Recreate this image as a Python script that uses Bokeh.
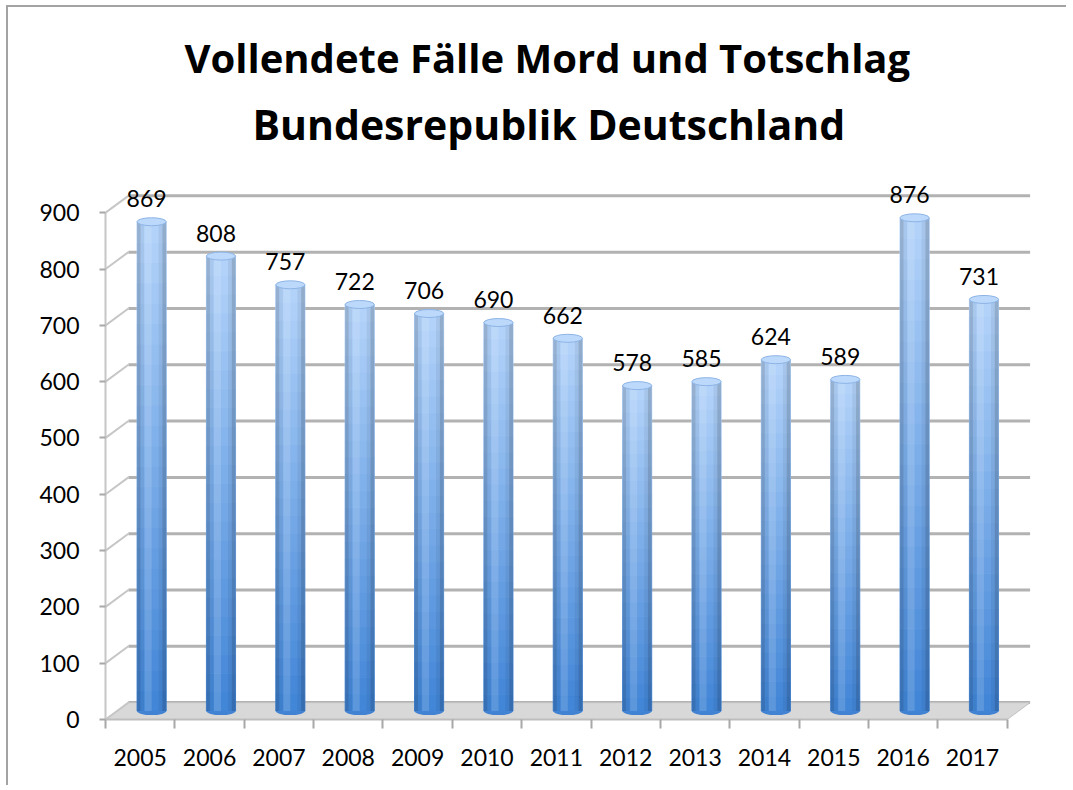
import numpy as np
from bokeh.plotting import figure
from bokeh.models import Range1d, FixedTicker, Title, ColumnDataSource
from bokeh.core.properties import value
from bokeh.embed import file_html
from bokeh.resources import INLINE

# ---------------- data ----------------
years = ["2005", "2006", "2007", "2008", "2009", "2010", "2011",
         "2012", "2013", "2014", "2015", "2016", "2017"]
cases = [869, 808, 757, 722, 706, 690, 662, 578, 585, 624, 589, 876, 731]
y_ticks = [0, 100, 200, 300, 400, 500, 600, 700, 800, 900]
title_line1 = "Vollendete Fälle Mord und Totschlag"
title_line2 = "Bundesrepublik Deutschland"

# ---------------- style constants ----------------
DX = 0.33      # 3D depth offset (category units)
DY = 30.0      # 3D depth offset (value units)
BAR_W = 0.42
FONT = "Lato"
TFONT = "Open Sans"
n = len(years)

p = figure(width=1060, height=780, x_range=Range1d(0, 13.48), y_range=Range1d(0, 975),
           output_backend="svg", toolbar_location=None, title=None,
           min_border_left=97, min_border_right=28, min_border_top=163, min_border_bottom=68)
p.background_fill_color = "white"
p.border_fill_color = "white"
p.outline_line_color = None
p.xgrid.visible = False
p.ygrid.visible = False
p.styles = {"border-left": "2px solid #a3a3a3", "border-top": "2px solid #a3a3a3",
            "border-right": "0px", "border-bottom": "0px",
            "margin-left": "6px", "margin-top": "5px"}

# ---------------- back wall gridlines ----------------
gy = [t + DY for t in y_ticks]
p.segment(x0=[DX] * len(y_ticks), y0=gy, x1=[n + DX] * len(y_ticks), y1=gy,
          line_color="#b2b2b2", line_width=3)

# ---------------- floor ----------------
p.patch([0, n, n + DX, DX], [0, 0, DY, DY], fill_color="#d8d8d8", line_color="#c0c0c0", line_width=1)

# diagonal connectors from front axis to back wall
p.segment(x0=[0] * len(y_ticks), y0=y_ticks, x1=[DX] * len(y_ticks), y1=gy,
          line_color="#c6c6c6", line_width=2)

# ---------------- bars (cylinders with gradient) ----------------
bot_rgb = np.array([0x40, 0x84, 0xd6], dtype=float)
top_rgb = np.array([0xb4, 0xd4, 0xfa], dtype=float)
NS = 24
q = dict(left=[], right=[], bottom=[], top=[], color=[])
centers = []
tops = []
for i, v in enumerate(cases):
    xc = i + 0.5 + DX / 2
    centers.append(xc)
    b0 = DY / 2
    t0 = v + DY / 2
    tops.append(t0)
    edges = np.linspace(b0, t0, NS + 1)
    for k in range(NS):
        f = (k + 0.5) / NS
        c = bot_rgb + (top_rgb - bot_rgb) * f
        q["left"].append(xc - BAR_W / 2)
        q["right"].append(xc + BAR_W / 2)
        q["bottom"].append(edges[k])
        q["top"].append(edges[k + 1])
        q["color"].append("#%02x%02x%02x" % tuple(int(round(x)) for x in c))
src = ColumnDataSource(q)

# bottom rounding
p.ellipse(x=centers, y=[DY / 2] * n, width=BAR_W, height=8, width_units="data", height_units="screen",
          fill_color="#4282d2", line_color=None)
p.quad(left="left", right="right", bottom="bottom", top="top", fill_color="color",
       line_color="color", line_width=1, source=src)

# horizontal shading overlays
shade = [(0.00, 0.12, "black", 0.16), (0.12, 0.24, "black", 0.05), (0.26, 0.50, "white", 0.14),
         (0.74, 0.87, "black", 0.06), (0.87, 1.00, "black", 0.18)]
for a, b, col, al in shade:
    p.quad(left=[c - BAR_W / 2 + a * BAR_W for c in centers],
           right=[c - BAR_W / 2 + b * BAR_W for c in centers],
           bottom=[DY / 2] * n, top=tops, fill_color=col, fill_alpha=al, line_color=None)

# top caps
p.ellipse(x=centers, y=tops, width=BAR_W, height=8, width_units="data", height_units="screen",
          fill_color="#bcd9fb", line_color="#8db4e6", line_width=1)

# data labels
p.text(x=centers, y=tops, text=[str(v) for v in cases], text_align="center",
       text_baseline="alphabetic", x_offset=-5, y_offset=-23,
       text_font=value(FONT), text_font_size="23px", text_color="black")

# ---------------- axes ----------------
xa = p.xaxis[0]
xa.ticker = FixedTicker(ticks=[i + 0.5 for i in range(n)], minor_ticks=list(range(n + 1)))
xa.major_label_overrides = {i + 0.5: y for i, y in enumerate(years)}
xa.bounds = (0, n)
xa.axis_line_color = "#bdbdbd"
xa.axis_line_width = 2
xa.major_tick_line_color = None
xa.major_tick_out = 0
xa.major_tick_in = 0
xa.minor_tick_line_color = "#a8a8a8"
xa.minor_tick_line_width = 2
xa.minor_tick_out = 9
xa.minor_tick_in = 0
xa.major_label_standoff = 20

ya = p.yaxis[0]
ya.ticker = FixedTicker(ticks=y_ticks, minor_ticks=[])
ya.bounds = (0, 900)
ya.axis_line_color = "#c6c6c6"
ya.axis_line_width = 2
ya.major_tick_line_color = "#a8a8a8"
ya.major_tick_line_width = 2
ya.major_tick_out = 6
ya.major_tick_in = 0
ya.major_label_standoff = 20

for ax in (xa, ya):
    ax.major_label_text_font = FONT
    ax.major_label_text_font_size = "23px"
    ax.major_label_text_color = "black"

# ---------------- titles ----------------
t2 = Title(text=title_line2, align="left", offset=147, text_font=TFONT, text_font_size="41px",
           text_font_style="bold", text_color="black", standoff=37)
t1 = Title(text=title_line1, align="left", offset=79, text_font=TFONT, text_font_size="40px",
           text_font_style="bold", text_color="black", standoff=-19)
p.add_layout(t2, "above")
p.add_layout(t1, "above")

open("out.html", "w").write(file_html(p, INLINE))
